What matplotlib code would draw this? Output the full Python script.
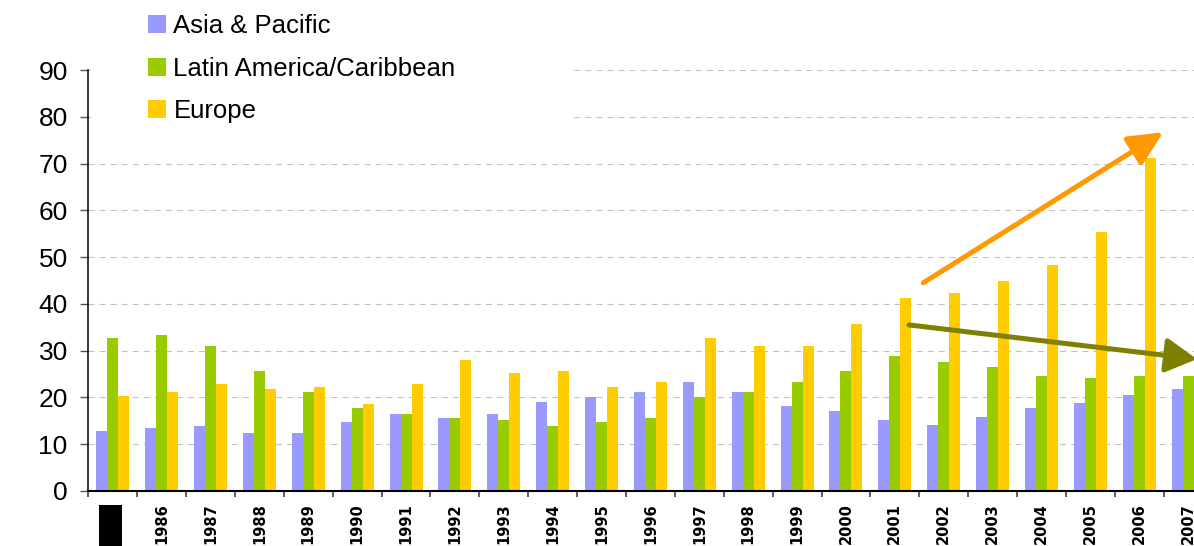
import matplotlib
matplotlib.use("Agg")
import matplotlib.pyplot as plt
import numpy as np
from matplotlib.patches import Rectangle

# ── Data ──────────────────────────────────────
YEARS = [str(y) for y in range(1985, 2008)]
ASIA = [12.8, 13.4, 14.0, 12.3, 12.3, 14.7, 16.4, 15.7, 16.4, 19.1, 20.0, 21.1,
        23.4, 21.1, 18.1, 17.0, 15.2, 14.1, 15.8, 17.7, 18.8, 20.5, 21.8]
LATAM = [32.8, 33.4, 31.1, 25.7, 21.1, 17.7, 16.4, 15.7, 15.1, 14.0, 14.7, 15.7,
         20.0, 21.1, 23.4, 25.7, 28.8, 27.5, 26.5, 24.6, 24.1, 24.6, 24.6]
EUROPE = [20.4, 21.1, 22.8, 21.7, 22.3, 18.7, 22.8, 28.1, 25.3, 25.7, 22.3, 23.4,
          32.8, 31.1, 31.1, 35.8, 41.2, 42.3, 44.8, 48.3, 55.3, 71.2, 76.4]
LABELS = ["Asia & Pacific", "Latin America/Caribbean", "Europe"]

# ── Colours ───────────────────────────────────
CLR_ASIA = "#9999FF"
CLR_LATAM = "#99CC00"
CLR_EUROPE = "#FFCC00"
CLR_UP = "#FF9900"
CLR_DOWN = "#808000"
CLR_GRID = "#c0c0c0"

FONT = "Liberation Sans"
W, H = 1194, 546

fig = plt.figure(figsize=(W / 100, H / 100), dpi=100, facecolor="white")
# axes run past the right edge, last group is cut like in the source
ax = fig.add_axes([88.3 / W, 55 / H, 1124.3 / W, 421 / H])

x = np.arange(len(YEARS))
bw = 0.225
ax.bar(x - bw, ASIA, bw, color=CLR_ASIA, label=LABELS[0], zorder=2)
ax.bar(x, LATAM, bw, color=CLR_LATAM, label=LABELS[1], zorder=2)
ax.bar(x + bw, EUROPE, bw, color=CLR_EUROPE, label=LABELS[2], zorder=2)

ax.set_xlim(-0.5, len(YEARS) - 0.5)
ax.set_ylim(0, 90)
ax.set_yticks(range(0, 91, 10))
ax.set_axisbelow(True)
ax.yaxis.grid(True, color=CLR_GRID, lw=0.75, linestyle=(0, (5.8, 4.8)))

for s in ("top", "right"):
    ax.spines[s].set_visible(False)
ax.spines["left"].set_linewidth(1.1)
ax.spines["bottom"].set_linewidth(1.5)

for lab in ax.get_yticklabels():
    lab.set_fontfamily(FONT)
ax.tick_params(axis="y", length=5.8, width=1, color="#555555", pad=9.0,
               labelsize=19)

# group boundary ticks + centred year labels
ax.set_xticks(np.arange(-0.5, len(YEARS)), labels=[])
ax.set_xticks(x, labels=YEARS, minor=True)
ax.tick_params(axis="x", which="major", length=4.3, width=1.2, color="#444444")
ax.tick_params(axis="x", which="minor", length=0, pad=9)
for lab in ax.get_xticklabels(minor=True):
    lab.set_rotation(90)
    lab.set_fontsize(10.5)
    lab.set_fontweight("bold")
    lab.set_va("top")

# trend arrows
ax.annotate("", xy=(21.49, 76.7), xytext=(16.58, 44.5),
            arrowprops=dict(arrowstyle="-|>,head_length=21,head_width=10",
                            mutation_scale=1, color=CLR_UP, lw=3.6,
                            shrinkA=0, shrinkB=0), zorder=4)
ax.annotate("", xy=(22.18, 28.2), xytext=(16.29, 35.5),
            arrowprops=dict(arrowstyle="-|>,head_length=19,head_width=10.5",
                            mutation_scale=1, color=CLR_DOWN, lw=3.6,
                            shrinkA=0, shrinkB=0),
            zorder=4, annotation_clip=False)

# white block behind legend hides the top grid lines
ax.add_patch(Rectangle((91 / W, (H - 128) / H), (572 - 91) / W, 70 / H,
                       transform=fig.transFigure, facecolor="white",
                       edgecolor="none", zorder=1))

leg = fig.legend(loc="upper left", bbox_to_anchor=(138 / W, 1.0 - 4 / H),
                 frameon=False, prop={"family": FONT, "size": 18.5},
                 handlelength=0.68, handleheight=0.7, handletextpad=0.3,
                 labelspacing=0.72, borderaxespad=0)

# black box covering the first year label
fig.patches.append(Rectangle((99 / W, 0), 23 / W, 41 / H,
                             transform=fig.transFigure, facecolor="black",
                             edgecolor="none", zorder=5))

fig.savefig("out.png", dpi=100)
